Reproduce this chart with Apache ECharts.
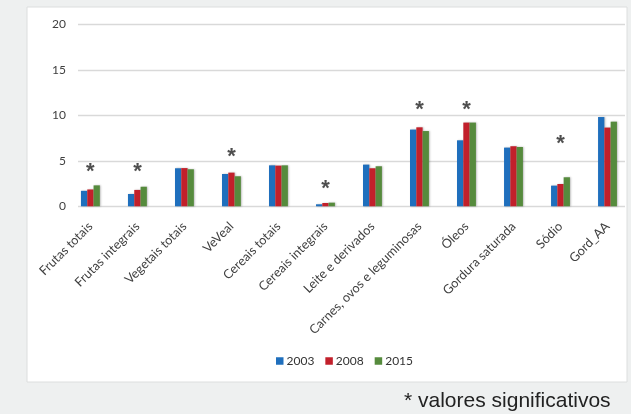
<!DOCTYPE html>
<html>
<head>
<meta charset="utf-8">
<script src="https://cdn.jsdelivr.net/npm/echarts@6/dist/echarts.min.js"></script>
<style>
  html, body { margin: 0; padding: 0; background: #eef0f0; }
  #chart { width: 631px; height: 414px; }
</style>
</head>
<body>
<div id="chart"></div>
<script>
// Food-group scores by survey year
const categories = [
  'Frutas totais', 'Frutas integrais', 'Vegetais totais', 'VeVeal',
  'Cereais totais', 'Cereais integrais', 'Leite e derivados',
  'Carnes, ovos e leguminosas', 'Óleos', 'Gordura saturada', 'Sódio', 'Gord_AA'
];
const years = ['2003', '2008', '2015'];
const values2003 = [1.7, 1.35, 4.18, 3.55, 4.5, 0.22, 4.58, 8.43, 7.25, 6.45, 2.27, 9.81];
const values2008 = [1.85, 1.8, 4.2, 3.7, 4.47, 0.36, 4.18, 8.68, 9.2, 6.6, 2.45, 8.65];
const values2015 = [2.3, 2.15, 4.07, 3.3, 4.5, 0.4, 4.4, 8.27, 9.2, 6.52, 3.19, 9.3];
// Groups marked as significant changes
const significant = [true, true, false, true, false, true, false, true, true, false, true, false];
const yTicks = [0, 5, 10, 15, 20];

const FONT = 'Lato, "Open Sans", sans-serif';
const colors = ['#1f6fbd', '#c2202b', '#568b3d'];

// Height (in axis units) at which each significance asterisk sits
const starLevel = [4.2, 4.2, null, 5.85, null, 2.35, null, 11.0, 11.0, null, 7.3, null];

const chart = echarts.init(document.getElementById('chart'), null, { renderer: 'canvas' });

const barSeries = [values2003, values2008, values2015].map((vals, i) => ({
  name: years[i],
  type: 'bar',
  xAxisIndex: 1,
  yAxisIndex: 1,
  data: vals,
  barWidth: 6.3,
  barGap: '0%',
  itemStyle: {
    color: colors[i],
    shadowColor: 'rgba(0,0,0,0.25)',
    shadowBlur: 2,
    shadowOffsetX: 1,
    shadowOffsetY: 0
  }
}));

const starData = categories
  .map((c, i) => (significant[i] ? [c, starLevel[i]] : null))
  .filter(d => d);

chart.setOption({
  backgroundColor: '#eef0f0',
  animation: false,
  textStyle: { fontFamily: FONT },
  graphic: [
    {
      type: 'rect',
      z: -10,
      shape: { x: 27, y: 7, width: 600, height: 375 },
      style: { fill: '#ffffff', stroke: '#dcdede', lineWidth: 1 }
    },
    {
      type: 'text',
      x: 404,
      y: 401,
      style: {
        text: '* valores significativos',
        font: '21px "Liberation Sans", Arial, sans-serif',
        fill: '#222222',
        verticalAlign: 'middle'
      }
    }
  ],
  legend: {
    data: years,
    top: 350,
    left: 271,
    itemWidth: 7.5,
    itemHeight: 7.5,
    itemGap: 11,
    icon: 'rect',
    textStyle: { fontSize: 12, color: '#333333', fontFamily: FONT, padding: [0, 0, 0, -2] }
  },
  grid: [
    { left: 78, width: 547, top: 24.3, height: 182, containLabel: false },
    { left: 66.9, width: 566.4, top: 24.3, height: 182, containLabel: false }
  ],
  xAxis: [
    {
      type: 'category',
      gridIndex: 0,
      data: categories,
      show: false
    },
    {
      type: 'category',
      gridIndex: 1,
      data: categories,
      axisLine: { show: false },
      axisTick: { show: false },
      axisLabel: {
        interval: 0,
        rotate: 45,
        margin: 18,
        fontSize: 12.7,
        color: '#404040',
        fontFamily: FONT
      }
    }
  ],
  yAxis: [
    {
      type: 'value',
      gridIndex: 0,
      min: yTicks[0],
      max: yTicks[yTicks.length - 1],
      interval: 5,
      axisLine: { show: false },
      axisTick: { show: false },
      axisLabel: { fontSize: 12, color: '#404040', margin: 12, fontFamily: FONT },
      splitLine: { lineStyle: { color: '#d9d9d9', width: 1.3 } }
    },
    {
      type: 'value',
      gridIndex: 1,
      min: yTicks[0],
      max: yTicks[yTicks.length - 1],
      interval: 5,
      show: false,
      splitLine: { show: false }
    }
  ],
  series: [
    ...barSeries,
    {
      type: 'scatter',
      xAxisIndex: 1,
      yAxisIndex: 1,
      data: starData,
      symbolSize: 0,
      silent: true,
      label: {
        show: true,
        position: 'inside',
        offset: [0, 4],
        formatter: '*',
        fontSize: 22,
        fontWeight: 'bold',
        fontFamily: '"Liberation Sans", Arial, sans-serif',
        color: '#222222'
      }
    }
  ]
});
</script>
</body>
</html>
